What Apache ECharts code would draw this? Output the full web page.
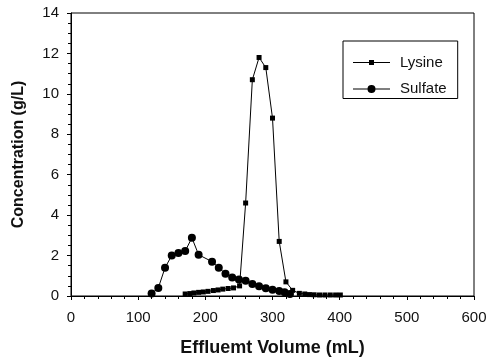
<!DOCTYPE html>
<html>
<head>
<meta charset="utf-8">
<script src="https://cdn.jsdelivr.net/npm/echarts@6/dist/echarts.min.js"></script>
<style>
  html, body {margin: 0; padding: 0; background: #fff;}
  #chart {width: 489px; height: 359px;}
</style>
</head>
<body>
<div id="chart"></div>
<script>
// lysine (squares)
var lysineX = [170, 177, 183, 190, 197, 204, 212, 219, 226, 234, 242, 251, 260, 270, 280, 290, 300, 310, 320, 330, 340, 348, 355, 362, 370, 378, 386, 394, 401];
var lysineY = [0.1, 0.12, 0.15, 0.18, 0.2, 0.23, 0.27, 0.3, 0.34, 0.37, 0.4, 0.5, 4.6, 10.7, 11.8, 11.3, 8.8, 2.7, 0.7, 0.28, 0.13, 0.1, 0.07, 0.06, 0.05, 0.05, 0.05, 0.05, 0.05];
// sulfate (circles)
var sulfateX = [120, 130, 140, 150, 160, 170, 180, 190, 210, 220, 230, 240, 250, 260, 270, 280, 290, 300, 310, 318, 326];
var sulfateY = [0.12, 0.4, 1.4, 2.0, 2.13, 2.22, 2.88, 2.04, 1.7, 1.4, 1.1, 0.92, 0.82, 0.76, 0.59, 0.48, 0.38, 0.31, 0.25, 0.18, 0.1];

var font = 'Arial, "Liberation Sans", sans-serif';
function pairs(xs, ys) {
  return xs.map(function (x, i) { return [x, ys[i]]; });
}

// legend icons: a line with the marker on it, drawn at true size
var lysineIcon = 'path://M0,2H37V3H0ZM16,0H21V5H16Z';
var sulfateIcon = 'path://M0,3.5H37V4.5H0ZM22.5,4A4,4,0,1,1,14.5,4A4,4,0,1,1,22.5,4Z';

var chart = echarts.init(document.getElementById('chart'));
chart.setOption({
  animation: false,
  grid: {
    left: 71, right: 15, top: 13, bottom: 63,
    outerBoundsMode: 'none',
    show: true, borderColor: '#000', borderWidth: 1
  },
  legend: {
    left: 343, top: 41,
    orient: 'vertical',
    padding: [14, 11, 2, 10],
    itemWidth: 37, itemHeight: 14, itemGap: 11.5,
    symbolKeepAspect: true,
    borderColor: '#000', borderWidth: 1,
    textStyle: {fontFamily: font, fontSize: 15, color: '#111', padding: [0, 0, 0, 5]},
    data: [
      {name: 'Lysine', icon: lysineIcon},
      {name: 'Sulfate', icon: sulfateIcon}
    ]
  },
  xAxis: {
    type: 'value', min: 0, max: 600, interval: 100,
    name: 'Effluemt Volume (mL)', nameLocation: 'middle', nameGap: 43,
    nameTextStyle: {fontFamily: font, fontSize: 18, fontWeight: 'bold', color: '#111'},
    axisLine: {lineStyle: {color: '#000', width: 1}},
    axisTick: {show: true, inside: false, length: 4, lineStyle: {color: '#000'}},
    minorTick: {show: true, splitNumber: 5, length: 3, lineStyle: {color: '#000'}},
    axisLabel: {fontFamily: font, fontSize: 15, color: '#111', margin: 14},
    splitLine: {show: false}
  },
  yAxis: {
    type: 'value', min: 0, max: 14, interval: 2,
    name: 'Concentration (g/L)', nameLocation: 'middle', nameGap: 44,
    nameTextStyle: {fontFamily: font, fontSize: 16, fontWeight: 'bold', color: '#111'},
    axisLine: {show: true, lineStyle: {color: '#000', width: 1}},
    axisTick: {show: true, inside: false, length: 4, lineStyle: {color: '#000'}},
    minorTick: {show: true, splitNumber: 4, length: 3, lineStyle: {color: '#000'}},
    axisLabel: {fontFamily: font, fontSize: 15, color: '#111', margin: 12},
    splitLine: {show: false}
  },
  series: [
    {
      name: 'Lysine', type: 'line',
      data: pairs(lysineX, lysineY),
      symbol: 'rect', symbolSize: 5,
      itemStyle: {color: '#000'},
      lineStyle: {color: '#000', width: 1}
    },
    {
      name: 'Sulfate', type: 'line',
      data: pairs(sulfateX, sulfateY),
      symbol: 'circle', symbolSize: 8,
      itemStyle: {color: '#000'},
      lineStyle: {color: '#000', width: 1}
    }
  ]
});
</script>
</body>
</html>
